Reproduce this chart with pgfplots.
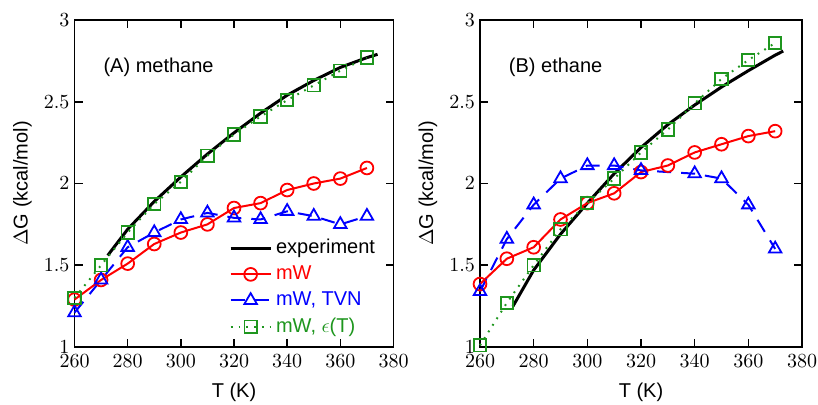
\documentclass[border=0pt]{standalone}
\usepackage{fontspec}
\setmainfont{Liberation Sans}
\usepackage{pgfplots}
\pgfplotsset{compat=1.18}
\definecolor{xgreen}{RGB}{30,150,30}
\pgfplotsset{
  panel/.style={
    scale only axis, width=159.5pt, height=163.5pt,
    xmin=260, xmax=380, ymin=1, ymax=3,
    xtick={260,280,...,380}, ytick={1,1.5,2,2.5,3},
    tick align=inside, major tick length=4pt,
    axis line style={line width=0.8pt}, every tick/.style={line width=0.8pt, black},
    font=\fontsize{10}{12}\selectfont,
    ticklabel style={font=\fontsize{10}{12}\selectfont},
    yticklabel style={xshift=1pt},
    xticklabel style={yshift=-0.5pt},
    clip=false,
    every axis x label/.style={at={(rel axis cs:0.5,0)}, yshift=-22.5pt, anchor=center},
    every axis y label/.style={at={(rel axis cs:0,0.5)}, xshift=-26pt, rotate=90, anchor=center},
    xlabel={T (K)}, ylabel={$\Delta$G (kcal/mol)},
    legend image code/.code={\draw[mark repeat=2,mark phase=2] plot coordinates {(0cm,0cm) (0.35cm,0cm) (0.7cm,0cm)};},
  },
  expS/.style={black, line width=1.5pt, no marks},
  mwS/.style={red, line width=1pt, mark=o, mark size=3.2pt, mark options={solid, fill=white, line width=0.9pt}},
  tvnS/.style={blue, line width=1pt, dash pattern=on 7pt off 5pt, mark=triangle, mark size=3.6pt, mark options={solid, fill=white, line width=0.9pt}},
  epsS/.style={xgreen, line width=1pt, dash pattern=on 0.9pt off 3pt, mark=square, mark size=3.1pt, mark options={solid, fill=white, line width=0.9pt}},
}
\begin{document}
\begin{tikzpicture}
\useasboundingbox (0,0) rectangle (409pt,202.5pt);
\begin{axis}[panel, at={(37.25pt,29pt)}, anchor=south west,
  legend style={at={(rel axis cs:0.465,0.355)}, anchor=north west, draw=none, fill=none, row sep=0.6pt, font=\fontsize{10}{12}\selectfont},
  legend cell align=left]
\addplot[expS] coordinates {(272.5,1.56) (280,1.72) (290,1.89) (300,2.04) (310,2.18) (320,2.31) (330,2.43) (340,2.54) (350,2.63) (360,2.71) (370,2.77) (374,2.79)};
\addlegendentry{\textcolor{black}{experiment}}
\addplot[mwS] coordinates {(260,1.29) (270,1.41) (280,1.51) (290,1.63) (300,1.70) (310,1.75) (320,1.85) (330,1.88) (340,1.96) (350,2.00) (360,2.03) (370,2.095)};
\addlegendentry{\textcolor{red}{mW}}
\addplot[tvnS] coordinates {(260,1.21) (270,1.41) (280,1.61) (290,1.70) (300,1.78) (310,1.82) (320,1.79) (330,1.78) (340,1.83) (350,1.80) (360,1.75) (370,1.80)};
\addlegendentry{\textcolor{blue}{mW, TVN}}
\addplot[epsS] coordinates {(260,1.30) (270,1.50) (280,1.70) (290,1.875) (300,2.01) (310,2.17) (320,2.30) (330,2.41) (340,2.51) (350,2.60) (360,2.69) (370,2.77)};
\addlegendentry{\textcolor{xgreen}{mW, $\epsilon$(T)}}
\node[anchor=west] at (rel axis cs:0.069,0.856) {(A) methane};
\end{axis}
\begin{axis}[panel, width=161pt, at={(240pt,29pt)}, anchor=south west]
\addplot[expS] coordinates {(272.3,1.25) (280,1.47) (290,1.69) (300,1.88) (310,2.06) (320,2.22) (330,2.36) (340,2.48) (350,2.59) (360,2.69) (370,2.785) (373,2.81)};
\addplot[mwS] coordinates {(260,1.385) (270,1.54) (280,1.61) (290,1.78) (300,1.88) (310,1.94) (320,2.07) (330,2.11) (340,2.19) (350,2.24) (360,2.29) (370,2.32)};
\addplot[tvnS] coordinates {(260,1.34) (270,1.66) (280,1.87) (290,2.03) (300,2.11) (310,2.11) (320,2.08) (340,2.06) (350,2.03) (360,1.87) (370,1.60)};
\addplot[epsS] coordinates {(260,1.01) (270,1.27) (280,1.50) (290,1.72) (300,1.88) (310,2.03) (320,2.19) (330,2.33) (340,2.49) (350,2.64) (360,2.755) (370,2.86)};
\node[anchor=west] at (rel axis cs:0.068,0.856) {(B) ethane};
\end{axis}
\end{tikzpicture}
\end{document}
